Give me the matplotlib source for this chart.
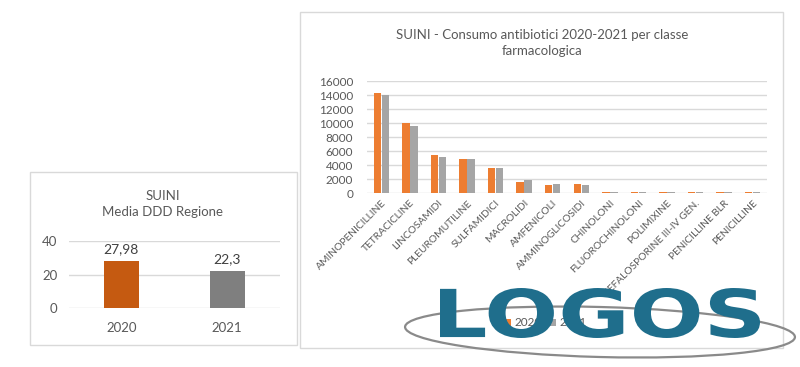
import numpy as np
import matplotlib
matplotlib.use("Agg")
import matplotlib.pyplot as plt
from matplotlib.patches import Rectangle, Ellipse, PathPatch
from matplotlib.textpath import TextPath
from matplotlib.font_manager import FontProperties
from matplotlib.transforms import Affine2D

plt.rcParams['font.family'] = ['Lato', 'DejaVu Sans']

# left chart data
anni = ['2020', '2021']
media_ddd = [27.98, 22.3]
media_lab = ['27,98', '22,3']

# right chart data
classi = ['AMINOPENICILLINE', 'TETRACICLINE', 'LINCOSAMIDI', 'PLEUROMUTILINE',
          'SULFAMIDICI', 'MACROLIDI', 'AMFENICOLI', 'AMMINOGLICOSIDI',
          'CHINOLONI', 'FLUOROCHINOLONI', 'POLIMIXINE',
          'CEFALOSPORINE III-IV GEN.', 'PENICILLINE BLR', 'PENICILLINE']
consumo_2020 = [14300, 10000, 5400, 4800, 3600, 1600, 1200, 1300,
                120, 100, 110, 90, 100, 100]
consumo_2021 = [14000, 9600, 5100, 4900, 3600, 1800, 1300, 1100,
                100, 110, 100, 100, 90, 110]

W, H = 800, 367
fig = plt.figure(figsize=(8, 3.67), dpi=100)

def fx(x):
    return x / W

def fy(y):
    return 1 - y / H

txt = '#595959'
grid = '#d9d9d9'

# chart frames
for x0, y0, x1, y1 in [(29.5, 172, 297, 345), (300, 12, 783, 348)]:
    fig.patches.append(Rectangle((fx(x0), fy(y1)), fx(x1 - x0), (y1 - y0) / H,
                                 transform=fig.transFigure, fill=False,
                                 edgecolor=grid, lw=1))

# ---- left chart
ax1 = fig.add_axes([fx(68.5), fy(308), fx(280 - 68.5), (308 - 241) / H])
x = np.arange(len(anni))
ax1.bar(x, media_ddd, width=0.33, color=['#c55a11', '#7f7f7f'], zorder=3)
for xi, v, lab in zip(x, media_ddd, media_lab):
    ax1.annotate(lab, (xi, v), xytext=(0, 4), textcoords='offset points',
                 ha='center', va='bottom', fontsize=10, color='#404040')
ax1.set_xlim(-0.5, 1.5)
ax1.set_ylim(0, 40)
ax1.set_yticks([0, 20, 40])
ax1.set_xticks(x)
ax1.set_xticklabels(anni)
ax1.yaxis.grid(True, color=grid, lw=1, zorder=0)
for s in ax1.spines.values():
    s.set_visible(False)
ax1.tick_params(length=0, labelsize=9.5, labelcolor=txt)
ax1.tick_params(axis='x', pad=10)
ax1.tick_params(axis='y', pad=8)
fig.text(fx(163), fy(204), 'SUINI\nMedia DDD Regione', ha='center', va='center',
         fontsize=9.5, color=txt, linespacing=1.3)

# ---- right chart
ax2 = fig.add_axes([fx(367), fy(193), fx(400), (193 - 81) / H])
xc = np.arange(len(classi))
bw = 0.26
ax2.bar(xc - bw / 2 - 0.01, consumo_2020, width=bw, color='#ed7d31', label='2020', zorder=3)
ax2.bar(xc + bw / 2 + 0.01, consumo_2021, width=bw, color='#a5a5a5', label='2021', zorder=3)
ax2.set_xlim(-0.5, len(classi) - 0.5)
ax2.set_ylim(0, 16000)
ax2.set_yticks(np.arange(0, 16001, 2000))
ax2.set_xticks(xc)
ax2.set_xticklabels(classi, rotation=45, ha='right', rotation_mode='anchor')
ax2.yaxis.grid(True, color=grid, lw=1, zorder=0)
for s in ax2.spines.values():
    s.set_visible(False)
ax2.tick_params(length=0, labelcolor=txt)
ax2.tick_params(axis='y', labelsize=8.5, pad=10)
ax2.tick_params(axis='x', labelsize=7.4, pad=4)
fig.text(fx(542), fy(43), 'SUINI - Consumo antibiotici 2020-2021 per classe\nfarmacologica',
         ha='center', va='center', fontsize=9.5, color=txt, linespacing=1.4)
ax2.legend(loc='center', bbox_to_anchor=(fx(545), fy(323)),
           bbox_transform=fig.transFigure, ncol=2, frameon=False, fontsize=8.5,
           labelcolor=txt, handlelength=0.6, handleheight=0.6,
           handletextpad=0.3, columnspacing=0.6)

# ---- LOGOS watermark
lax = fig.add_axes([0, 0, 1, 1], zorder=10)
lax.set_xlim(0, W)
lax.set_ylim(0, H)
lax.axis('off')
lax.add_patch(Ellipse((600, H - 332), 390, 50, angle=-1.5, fill=False,
                      edgecolor='#8a8a8a', lw=1.6))
tp = TextPath((0, 0), 'LOGOS', size=1, prop=FontProperties(family='DejaVu Sans', weight='bold'))
ext = tp.get_extents()
sx = (760 - 440) / ext.width
sy = (338 - 288) / ext.height
tr = Affine2D().translate(-ext.x0, -ext.y0).scale(sx, sy).translate(440, H - 338)
lax.add_patch(PathPatch(tr.transform_path(tp), facecolor='#1f6e8c', edgecolor='none'))

fig.savefig('out.png', dpi=100)
